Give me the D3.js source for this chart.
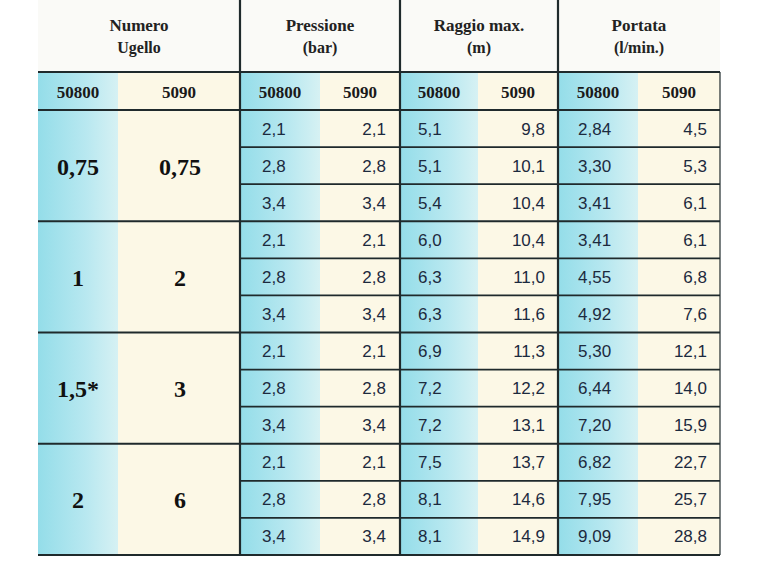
<!DOCTYPE html>
<html><head><meta charset="utf-8">
<script src="https://cdn.jsdelivr.net/npm/d3@7"></script>
<style>body{margin:0;background:#fff}</style></head>
<body><svg id="c" width="757" height="565"></svg>
<script>
const groupTitles = [["Numero","Ugello"],["Pressione","(bar)"],["Raggio max.","(m)"],["Portata","(l/min.)"]];
const subHeaders = ["50800","5090","50800","5090","50800","5090","50800","5090"];
const nozzle50800 = ["0,75","1","1,5*","2"];
const nozzle5090 = ["0,75","2","3","6"];
const pressure50800 = ["2,1","2,8","3,4","2,1","2,8","3,4","2,1","2,8","3,4","2,1","2,8","3,4"];
const pressure5090 = ["2,1","2,8","3,4","2,1","2,8","3,4","2,1","2,8","3,4","2,1","2,8","3,4"];
const radius50800 = ["5,1","5,1","5,4","6,0","6,3","6,3","6,9","7,2","7,2","7,5","8,1","8,1"];
const radius5090 = ["9,8","10,1","10,4","10,4","11,0","11,6","11,3","12,2","13,1","13,7","14,6","14,9"];
const flow50800 = ["2,84","3,30","3,41","3,41","4,55","4,92","5,30","6,44","7,20","6,82","7,95","9,09"];
const flow5090 = ["4,5","5,3","6,1","6,1","6,8","7,6","12,1","14,0","15,9","22,7","25,7","28,8"];

const svg = d3.select("#c");
const edges = [38,118,240,320,400,478,558,638,720];
const x = i => edges[i];
const y = d3.scaleLinear().domain([0,12]).range([110,555]);
const defs = svg.append("defs");
const g = defs.append("linearGradient").attr("id","blue");
g.append("stop").attr("offset","0").attr("stop-color","#94dde9");
g.append("stop").attr("offset","0.6").attr("stop-color","#b8e8f0");
g.append("stop").attr("offset","1").attr("stop-color","#d6f1f3");
const cream = "#fcf8e6";
svg.append("rect").attr("x",38).attr("y",0).attr("width",682).attr("height",72).attr("fill","#fafaf7");
for(let i=0;i<8;i++){
  svg.append("rect").attr("x",x(i)).attr("y",72).attr("width",x(i+1)-x(i)).attr("height",555-72)
    .attr("fill", i%2===0 ? "url(#blue)" : cream);
}
const dark="#1f2a2c";
[72,110].forEach(v=>svg.append("line").attr("x1",38).attr("x2",720).attr("y1",v).attr("y2",v).attr("stroke",dark).attr("stroke-width",2.2));
d3.range(1,13).forEach(r=>{
  const full = r%3===0;
  svg.append("line").attr("x1",full?38:240).attr("x2",720).attr("y1",y(r)).attr("y2",y(r))
    .attr("stroke",dark).attr("stroke-width",full?2.2:1.6);
});
[240,400,558].forEach(v=>svg.append("line").attr("x1",v).attr("x2",v).attr("y1",0).attr("y2",555).attr("stroke",dark).attr("stroke-width",2.2));
svg.append("line").attr("x1",720).attr("x2",720).attr("y1",72).attr("y2",555).attr("stroke",dark).attr("stroke-width",1.2);

const serif="'Liberation Serif','DejaVu Serif',serif";
const sans="'Liberation Sans',Arial,sans-serif";
const gc=[139,320,479,639];
groupTitles.forEach((t,i)=>t.forEach((s,j)=>svg.append("text").attr("x",gc[i]).attr("y",j?53:31)
  .attr("text-anchor","middle").attr("font-family",serif).attr("font-weight","bold").attr("font-size",j?16:17)
  .attr("fill","#222").text(s)));
subHeaders.forEach((s,i)=>svg.append("text").attr("x",(x(i)+x(i+1))/2).attr("y",98).attr("text-anchor","middle")
  .attr("font-family",serif).attr("font-weight","bold").attr("font-size",17).attr("fill","#1a1a1a").text(s));
[[nozzle50800,78],[nozzle5090,180]].forEach(([arr,cx])=>arr.forEach((s,k)=>svg.append("text").attr("x",cx)
  .attr("y",y(k*3+1.5)+9).attr("text-anchor","middle").attr("font-family",serif).attr("font-weight","bold")
  .attr("font-size",24).attr("fill","#111").text(s)));
const cols=[[pressure50800,262,"start"],[pressure5090,386,"end"],[radius50800,418,"start"],[radius5090,545,"end"],
  [flow50800,578,"start"],[flow5090,707,"end"]];
cols.forEach(([arr,px,anc])=>arr.forEach((s,r)=>svg.append("text").attr("x",px).attr("y",y(r+0.5)+6)
  .attr("text-anchor",anc).attr("font-family",sans).attr("font-size",17).attr("fill","#1c2a3e").text(s)));
</script></body></html>
